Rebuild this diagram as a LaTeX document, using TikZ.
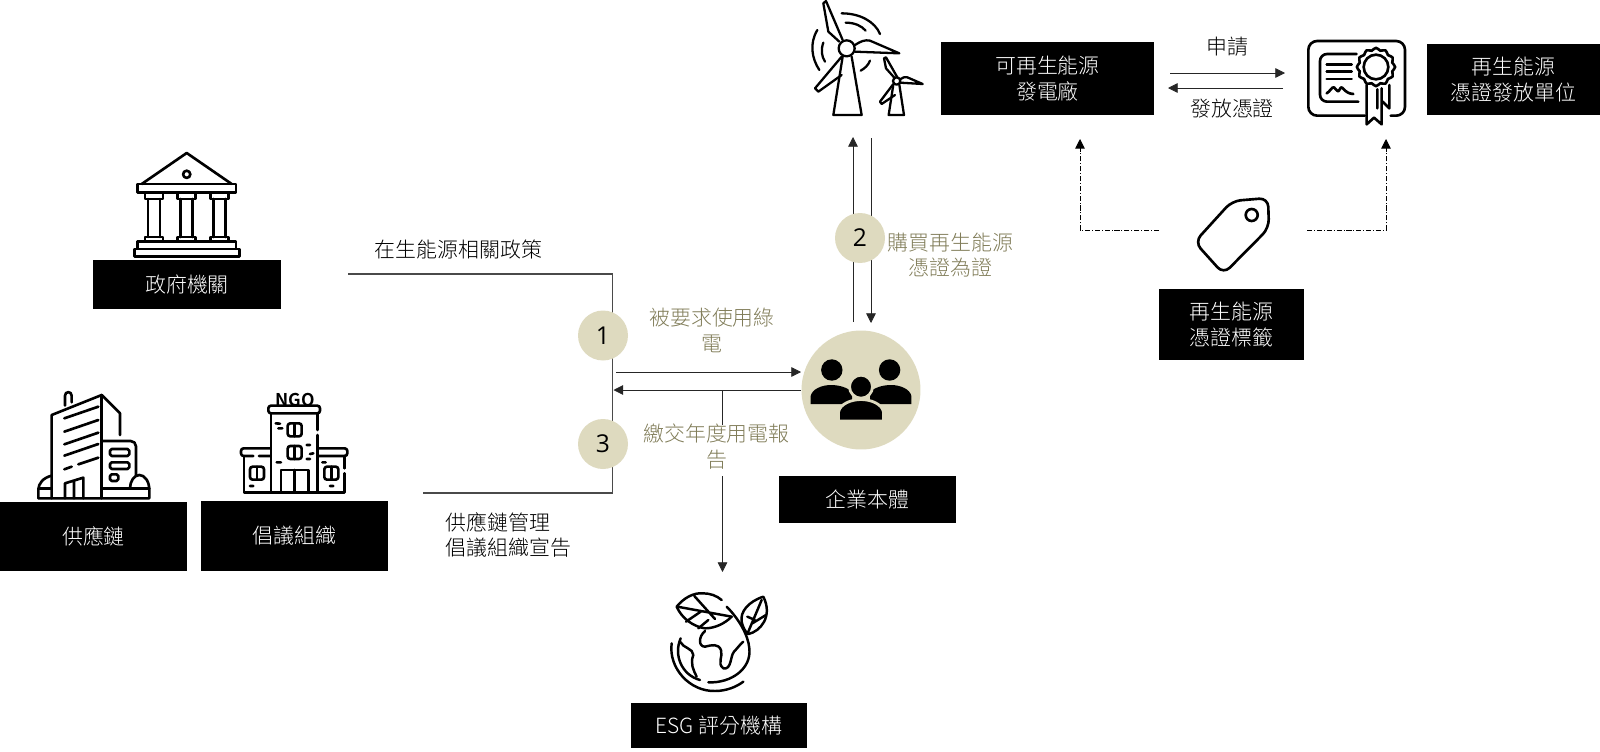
\documentclass[tikz,border=0pt]{standalone}
\usepackage{fontspec}
\setmainfont{Noto Sans CJK TC}[UprightFont={* Light},BoldFont={* Bold}]
\newfontfamily\numfont{Open Sans}
\usetikzlibrary{arrows.meta}

\definecolor{sand}{HTML}{DEDABF}
\definecolor{olive}{HTML}{807C58}
\definecolor{wire}{HTML}{4A4A4A}

\begin{document}
\begin{tikzpicture}[
x=0.02cm,y=-0.02cm,
>={Triangle[length=5.5pt,width=5.5pt]},
blackbox/.style={
	fill=black,
	text=white,
	align=center,
	inner sep=0pt,
	font=\fontsize{11.9}{15}\selectfont
},
caption/.style={
	align=center,
	inner sep=0pt,
	font=\fontsize{11.9}{14.7}\selectfont
},
badge/.style={
	fill=sand,
	circle,
	inner sep=0pt,
	minimum size=1.0cm,
	font=\numfont\fontsize{14}{14}\selectfont
},
link/.style={
	wire,
	line width=0.6pt
},
flow/.style={
	->,
	black!85,
	line width=0.45pt
},
hint/.style={
	->,
	black,
	line width=0.5pt,
	dash pattern=on 3pt off 1pt on 0.6pt off 1pt
},
icon/.style={
	line width=1.5pt,
	line join=round,
	line cap=round
},
finer/.style={
	x=0.00667cm,
	y=-0.00667cm
}
]
\useasboundingbox (0,0) rectangle (1600,751);

% connectors first, the badges sit on top of them
\coordinate (polA) at (348,274);
\coordinate (polB) at (612.5,274);
\coordinate (polC) at (612.5,493);
\coordinate (polD) at (423,493);
\coordinate (reqA) at (616,372);
\coordinate (reqB) at (801,372);
\coordinate (repA) at (801,390);
\coordinate (repB) at (613.5,390);
\coordinate (repC) at (722.5,390);
\coordinate (repD) at (722.5,425);
\coordinate (repE) at (722.5,476);
\coordinate (repF) at (722.5,572);
\coordinate (buyA) at (853,322);
\coordinate (buyB) at (853,137);
\coordinate (buyC) at (871,138);
\coordinate (buyD) at (871,323);
\coordinate (askA) at (1170,73);
\coordinate (askB) at (1285,73);
\coordinate (giveA) at (1283,88);
\coordinate (giveB) at (1168,88);
\coordinate (tagL) at (1159,230);
\coordinate (tagLc) at (1080,230);
\coordinate (tagLe) at (1080,139);
\coordinate (tagR) at (1307,230);
\coordinate (tagRc) at (1386,230);
\coordinate (tagRe) at (1386,139);

\draw[link] (polA) -- (polB) -- (polC) -- (polD);
\draw[flow] (reqA) -- (reqB);
\draw[flow] (repA) -- (repB);
\draw[flow,-] (repC) -- (repD);
\draw[flow] (repE) -- (repF);
\draw[flow] (buyA) -- (buyB);
\draw[flow] (buyC) -- (buyD);
\draw[flow] (askA) -- (askB);
\draw[flow] (giveA) -- (giveB);
\draw[hint] (tagL) -- (tagLc) -- (tagLe);
\draw[hint] (tagR) -- (tagRc) -- (tagRe);

\foreach \x/\y/\l in {603/335.5/1,860/238/2,603/444/3}
\node[badge] (step\l) at (\x,\y) {\l};
\node[fill=sand,circle,inner sep=0pt,minimum size=2.38cm] (people) at (861,390) {};

\foreach \x/\y/\w/\h/\n/\t in {
187/284.5/188/49/gov/{政府機關},
93.5/536.5/187/69/supply/{供應鏈},
294.5/536/187/70/ngo/{倡議組織},
1047.5/78.5/213.5/73/plant/{可再生能源\\發電廠},
1513.5/79.5/173/71/issuer/{再生能源\\憑證發放單位},
1231.5/324.5/145/71/tag/{再生能源\\憑證標籤},
867.5/499.5/177/47/corp/{企業本體},
719/725.5/176.5/45/esg/{ESG 評分機構}}
\node[blackbox,minimum width=\w*0.02cm,minimum height=\h*0.02cm] (\n) at (\x,\y) {\t};

\node[caption] (policy) at (458.5,249) {在生能源相關政策};
\node[caption,align=left] (chain) at (508.5,535) {供應鏈管理\\倡議組織宣告};
\node[caption] (apply) at (1227,47) {申請};
\node[caption] (grant) at (1232,109) {發放憑證};
\node[caption,olive] (required) at (712,330.5) {被要求使用綠\\電};
\node[caption,olive] (annual) at (716.5,446.5) {繳交年度用電報\\告};
\node[caption,olive] (buy) at (950.5,255) {購買再生能源\\憑證為證};

% government
\begin{scope}[icon]
\draw (141.7,184) -- (186.7,153) -- (231.7,184);
\draw (186.7,174.3) circle [radius=3.6];
\draw (137.7,184) rectangle (236,192.7);
\foreach \c in {154,186.7,219.5} {
\draw (\c-9,192.7) rectangle (\c+9,199);
\draw (\c-6,199) -- (\c-6,237) (\c+6,199) -- (\c+6,237);
\draw (\c-9,237) rectangle (\c+9,241.7);
}
\draw (137.7,241.7) rectangle (236,249);
\draw (134.5,249) rectangle (239.5,256.7);
\end{scope}

% supply chain building
\begin{scope}[shift={(30,385)},finer,icon]
\draw (65,340) -- (65,90) -- (215,30) -- (270,85) -- (270,150);
\draw (215,30) -- (215,340);
\draw (105,62) -- (105,32) .. controls (105,18) and (125,18) .. (125,32) -- (125,52);
\foreach \y in {100,140,178,212} \draw (103,\y) -- (205,\y-35);
\draw (103,253) -- (125,245) (145,238) -- (205,218);
\draw (105,340) -- (105,295) -- (160,278) -- (160,340) (132,290) -- (132,340);
\draw[rounded corners=3pt] (218,168) -- (318,168) -- (318,270);
\draw[rounded corners=1pt] (240,192) rectangle (298,213);
\draw[rounded corners=1pt] (240,232) rectangle (298,252);
\draw[rounded corners=1pt] (240,268) rectangle (265,288);
\draw (65,272) .. controls (40,278) and (25,295) .. (25,315) -- (25,340) -- (358,340) -- (358,315) .. controls (358,290) and (345,270) .. (328,270) .. controls (312,270) and (300,290) .. (300,310);
\draw (25,310) -- (65,310) (218,310) -- (358,310);
\end{scope}

% ngo building
\node[font=\bfseries\fontsize{10}{10}\selectfont,inner sep=0pt] (ngomark) at (295,399.5) {NGO};
\begin{scope}[shift={(235,385)},finer,icon]
\draw[rounded corners=1.5pt] (100,62) rectangle (255,85);
\draw (108,85) -- (108,322) (248,85) -- (248,135) (248,150) -- (248,322);
\draw[rounded corners=1.5pt] (105,190) -- (18,190) -- (18,213) -- (55,213) (72,213) -- (105,213);
\draw[rounded corners=1.5pt] (250,190) -- (337,190) -- (337,213) -- (250,213);
\draw (27,213) -- (27,322) -- (328,322) -- (328,265) (328,250) -- (328,213);
\draw (138,322) -- (138,255) -- (220,255) -- (220,322) (178,255) -- (178,322);
\foreach \x/\y in {158/115,158/183,45/245,268/245} {
\draw[rounded corners=1.5pt] (\x,\y) rectangle ++(42,39);
\draw (\x+21,\y) -- (\x+21,\y+39);
}
\draw (122,115) -- (135,116) (130,130) -- (142,130) (215,180) -- (225,180) (225,207) -- (235,205) (215,222) -- (225,222) (125,232) -- (138,232) (262,232) -- (272,232) (45,303) -- (55,303) (285,303) -- (295,303);
\end{scope}

% wind turbines
\begin{scope}[shift={(800,0)},finer,icon,line width=1.3pt]
\draw (140,145) circle [radius=24];
\draw (128,170) -- (100,345) -- (185,345) -- (155,170);
\draw (118,125) -- (85,95) -- (70,10) -- (78,3) -- (128,120);
\draw (165,135) .. controls (180,125) and (195,118) .. (210,122) -- (298,160) -- (165,155);
\draw (125,170) -- (45,265) -- (55,275) -- (125,225);
\draw (125,40) .. controls (180,40) and (225,65) .. (240,102);
\draw (137,68) .. controls (165,68) and (185,78) .. (197,92);
\draw (52,90) .. controls (28,130) and (35,175) .. (58,210);
\draw (70,128) .. controls (62,150) and (65,170) .. (75,185);
\draw (210,182) .. controls (205,195) and (195,205) .. (182,212);
\draw (290,243) circle [radius=11];
\draw (280,254) -- (266,345) -- (312,345) -- (298,254);
\draw (283,233) -- (258,205) -- (252,175) -- (258,172) -- (292,232);
\draw (300,238) .. controls (308,232) and (315,230) .. (322,232) -- (368,252) -- (300,248);
\draw (280,252) -- (240,305) -- (245,312) -- (285,285);
\end{scope}

% certificate
\begin{scope}[shift={(1300,30)},finer,icon]
\draw[rounded corners=5pt] (195,257) -- (25,257) -- (25,33) -- (315,33) -- (315,257) -- (272,257);
\draw[rounded corners=4pt] (170,72) -- (60,72) -- (60,215) -- (175,215);
\draw (80,103) -- (155,103) (80,125) -- (155,125) (80,147) -- (155,147);
\draw (80,190) .. controls (90,185) and (95,170) .. (102,172) .. controls (108,175) and (110,185) .. (114,184) .. controls (118,184) and (120,172) .. (125,172) .. controls (132,175) and (135,190) .. (160,192);
\draw plot[smooth cycle,samples=48,domain=0:352.5] ({228+(54+3.5*cos(12*\x))*cos(\x)},{111+(54+3.5*cos(12*\x))*sin(\x)});
\draw (228,111) circle [radius=37];
\draw (200,165) -- (200,283) -- (222,263) -- (245,283) -- (245,175);
\draw (232,178) -- (232,235) (268,165) -- (268,235) -- (248,215);
\end{scope}

% label tag
\begin{scope}[icon]
\draw[rounded corners=5pt] (1232,201) -- (1268,198) -- (1269,228) -- (1223.5,274) -- (1194.7,242) -- cycle;
\draw (1251.7,215) circle [radius=6];
\end{scope}

% people in the big circle
\fill (831.8,370) circle [radius=10.7];
\fill (889.6,370) circle [radius=10.7];
\fill (810.7,404) -- (810.7,396) .. controls (812,389) and (822,385) .. (831,385) .. controls (840,385) and (848,388) .. (852,392) -- (852,404) -- cycle;
\fill (911.4,404) -- (911.4,396) .. controls (910,389) and (900,385) .. (891,385) .. controls (882,385) and (874,388) .. (870,392) -- (870,404) -- cycle;
\filldraw[draw=sand,line width=1.6pt] (861,386.7) circle [radius=11.5];
\filldraw[draw=sand,line width=1.6pt] (838.5,421) -- (838.5,412) .. controls (840,404) and (851,399.5) .. (861,399.5) .. controls (871,399.5) and (882,404) .. (883.5,412) -- (883.5,421) -- cycle;

% globe and leaves
\begin{scope}[shift={(660,585)},finer,icon,line width=1.4pt]
\draw (145,292) .. controls (215,295) and (275,250) .. (268,190) .. controls (265,150) and (235,100) .. (200,65);
\draw (62,160) .. controls (40,210) and (65,270) .. (120,285);
\draw (35,175) .. controls (25,250) and (90,320) .. (165,318) .. controls (200,318) and (230,305) .. (250,290);
\draw (135,138) .. controls (115,155) and (115,185) .. (135,185) .. controls (155,180) and (175,175) .. (183,195) .. controls (190,215) and (170,235) .. (190,250) .. controls (215,255) and (210,215) .. (222,200) .. controls (232,190) and (240,178) .. (250,170);
\draw (60,170) .. controls (70,190) and (100,190) .. (100,210) .. controls (90,235) and (100,255) .. (110,275);
\draw (50,65) .. controls (70,40) and (100,22) .. (130,25) .. controls (150,25) and (170,32) .. (185,45);
\draw (50,65) .. controls (65,100) and (100,125) .. (135,130) .. controls (165,130) and (195,115) .. (215,95);
\draw (52,65) -- (215,95) (103,33) -- (165,102) (145,105) -- (115,130) (125,78) -- (78,110);
\draw (310,35) .. controls (265,50) and (240,80) .. (245,110) .. controls (248,125) and (255,140) .. (265,147) .. controls (300,140) and (340,95) .. (310,35) -- cycle;
\draw (262,147) -- (305,45) (262,95) -- (285,105) (318,90) -- (277,115);
\end{scope}

\end{tikzpicture}
\end{document}
